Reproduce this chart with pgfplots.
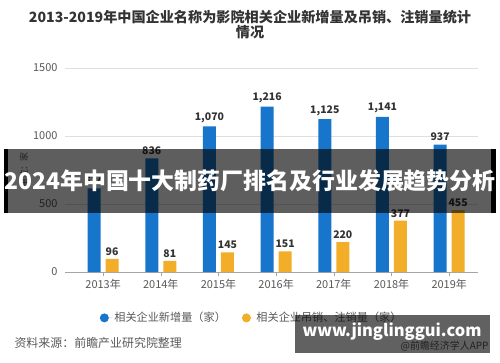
\documentclass[border=0pt]{standalone}
\usepackage{pgfplots}
\pgfplotsset{compat=1.18}
\usepackage{fontspec}
\setmainfont{Noto Sans CJK SC}
\definecolor{cblue}{RGB}{23,117,203}
\definecolor{cyel}{RGB}{242,174,40}
\definecolor{ctxt}{RGB}{51,51,51}
\definecolor{clab}{RGB}{89,89,89}
\begin{document}
\begin{tikzpicture}[x=1bp,y=1bp]
\path[fill=white] (0,0) rectangle (500,362);
\node[font=\fontsize{14.2}{15}\selectfont\bfseries, text=ctxt, align=center] at (250,337.5) {2013-2019年中国企业名称为影院相关企业新增量及吊销、注销量统计\\情况};
\node[rotate=90, font=\fontsize{9}{9}\selectfont, text=clab] at (24,192) {单位：家};
\begin{axis}[
  at={(65bp,90bp)}, anchor=south west,
  scale only axis, width=413bp, height=204bp,
  xmin=-0.66, xmax=6.5, ymin=0, ymax=1500,
  ybar=5bp, bar width=13bp,
  axis x line*=bottom, axis y line*=left,
  x axis line style={draw=gray!70, -},
  y axis line style={draw=none},
  ytick={0,500,1000,1500},
  ymajorgrids, grid style={draw=gray!25},
  ytick style={draw=none},
  xtick={0,1,2,3,4,5,6},
  xticklabels={2013年,2014年,2015年,2016年,2017年,2018年,2019年},
  xtick style={draw=gray!70},
  tick align=outside, major tick length=4bp,
  ticklabel style={font=\fontsize{11}{11}\selectfont, text=clab},
  /pgf/number format/assume math mode=true,
  /pgf/number format/fixed, /pgf/number format/precision=0,
  /pgf/number format/1000 sep={,},
  yticklabel style={/pgf/number format/1000 sep={}},
  nodes near coords,
  every node near coord/.append style={font=\fontsize{10.5}{11}\selectfont\bfseries, text=ctxt},
  legend style={at={(0.452,-0.225)}, anchor=center, draw=none, fill=none,
    font=\fontsize{11.2}{12}\selectfont, text=clab,
    /tikz/every even column/.append style={column sep=14bp}},
  legend columns=2,
]
\addplot[fill=cblue, draw=none, legend image code/.code={\fill[cblue] (0bp,0bp) circle (4.5bp); \path (0bp,0bp) -- (8bp,0bp);}] coordinates {(0,614) (1,836) (2,1070) (3,1216) (4,1125) (5,1141) (6,937)};
\addlegendentry{相关企业新增量（家）}
\addplot[fill=cyel, draw=none, legend image code/.code={\fill[cyel] (0bp,0bp) circle (4.5bp); \path (0bp,0bp) -- (8bp,0bp);}] coordinates {(0,96) (1,81) (2,145) (3,151) (4,220) (5,377) (6,455)};
\addlegendentry{相关企业吊销、注销量（家）}
\end{axis}
\node[anchor=west, font=\fontsize{12}{12}\selectfont, text=clab] at (11,19) {资料来源：前瞻产业研究院整理};
% banner
\fill[black] (4,149) rectangle (8,213);
\fill[black] (491,149) rectangle (496,213);
\fill[black, opacity=0.63] (8,149) rectangle (491,213);
\node[font=\fontsize{23}{23}\selectfont\bfseries, text=white] at (250,181) {2024年中国十大制药厂排名及行业发展趋势分析};
% bottom-right watermark
\node[anchor=east, font=\fontsize{10}{10}\selectfont, text=clab] at (492,16) {@前瞻经济学人APP};
\fill[black, opacity=0.62] (295,9) rectangle (490,47);
\node[font=\fontsize{16.5}{17}\selectfont\bfseries, text=white] at (392,30) {www.jinglinggui.com};
\end{tikzpicture}
\end{document}
